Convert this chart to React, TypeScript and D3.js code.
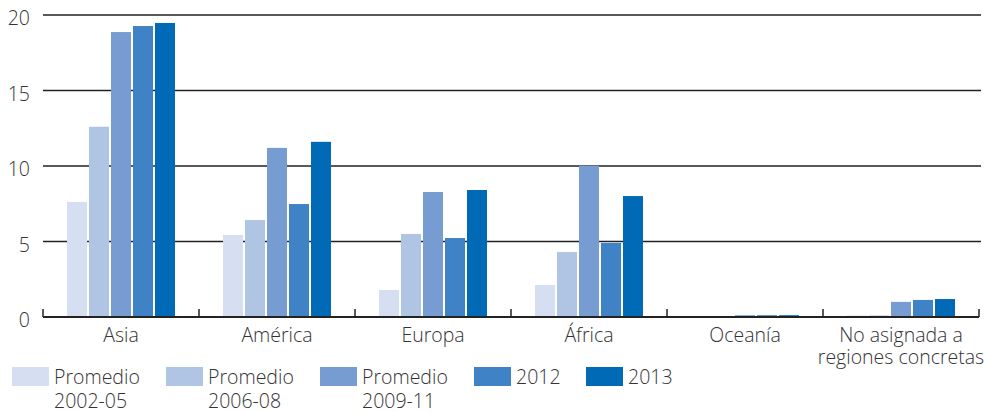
import React from "react";
import * as d3 from "d3";

const categories: string[][] = [
  ["Asia"],
  ["América"],
  ["Europa"],
  ["África"],
  ["Oceanía"],
  ["No asignada a", "regiones concretas"],
];
const seriesNames: string[][] = [
  ["Promedio", "2002-05"],
  ["Promedio", "2006-08"],
  ["Promedio", "2009-11"],
  ["2012"],
  ["2013"],
];
const prom0205 = [7.62, 5.43, 1.79, 2.12, 0.01, 0.1];
const prom0608 = [12.6, 6.42, 5.5, 4.3, 0.02, 0.1];
const prom0911 = [18.87, 11.2, 8.28, 10.02, 0.12, 1.0];
const y2012 = [19.27, 7.48, 5.23, 4.9, 0.12, 1.13];
const y2013 = [19.47, 11.6, 8.41, 8.01, 0.12, 1.19];
const yTicks = [0, 5, 10, 15, 20];

const series = [prom0205, prom0608, prom0911, y2012, y2013];
const colors = ["#d6dff2", "#b0c4e4", "#769cd2", "#3f82c5", "#006ab7"];

const W = 984;
const H = 412;
const left = 43;
const right = 979;
const top = 15;
const bottom = 317;
const FONT = "'Open Sans', 'Noto Sans', sans-serif";
const TEXT = "#333";

export default function App() {
  const x = d3
    .scaleBand<number>()
    .domain(d3.range(categories.length))
    .range([left, right]);
  const y = d3.scaleLinear().domain([0, 20]).range([bottom, top]);
  const barW = 20;
  const step = 22;
  const groupW = step * (series.length - 1) + barW;
  const legendX = [12, 166, 320, 474, 586];

  return (
    <svg
      width={W}
      height={H}
      style={{ position: "absolute", left: 0, top: 0, display: "block" }}
      fontFamily={FONT}
    >
      <rect width={W} height={H} fill="#fff" />
      {yTicks
        .filter((t) => t > 0)
        .map((t) => (
          <line
            key={t}
            x1={left}
            x2={right + 2}
            y1={y(t)}
            y2={y(t)}
            stroke="#222"
            strokeWidth={1.5}
          />
        ))}
      {yTicks.map((t) => (
        <text
          key={t}
          x={30}
          y={y(t) + 10}
          textAnchor="end"
          fontSize={19.5}
          fontWeight={300}
          fill={TEXT}
        >
          {t}
        </text>
      ))}
      {categories.map((_, ci) => {
        const x0 = (x(ci) as number) + (x.bandwidth() - groupW) / 2;
        return series.map((s, si) => (
          <rect
            key={`${ci}-${si}`}
            x={x0 + si * step}
            y={y(s[ci])}
            width={barW}
            height={bottom - y(s[ci])}
            fill={colors[si]}
          />
        ));
      })}
      <line x1={left} x2={right} y1={bottom} y2={bottom} stroke="#222" strokeWidth={2} />
      {d3.range(categories.length + 1).map((i) => {
        const xx = i < categories.length ? (x(i) as number) : right;
        return (
          <line key={i} x1={xx} x2={xx} y1={bottom} y2={bottom - 8} stroke="#222" strokeWidth={1.5} />
        );
      })}
      {categories.map((lines, ci) => (
        <text
          key={ci}
          textAnchor="middle"
          fontSize={19.5}
          fontWeight={300}
          fill={TEXT}
        >
          {lines.map((l, li) => (
            <tspan key={li} x={(x(ci) as number) + x.bandwidth() / 2} y={342 + li * 22}>
              {l}
            </tspan>
          ))}
        </text>
      ))}
      {seriesNames.map((lines, si) => (
        <g key={si} transform={`translate(${legendX[si]},0)`}>
          <rect x={0} y={367} width={37} height={19} fill={colors[si]} />
          <text fontSize={19.5} fontWeight={300} fill={TEXT}>
            {lines.map((l, li) => (
              <tspan key={li} x={42} y={384 + li * 24}>
                {l}
              </tspan>
            ))}
          </text>
        </g>
      ))}
    </svg>
  );
}
